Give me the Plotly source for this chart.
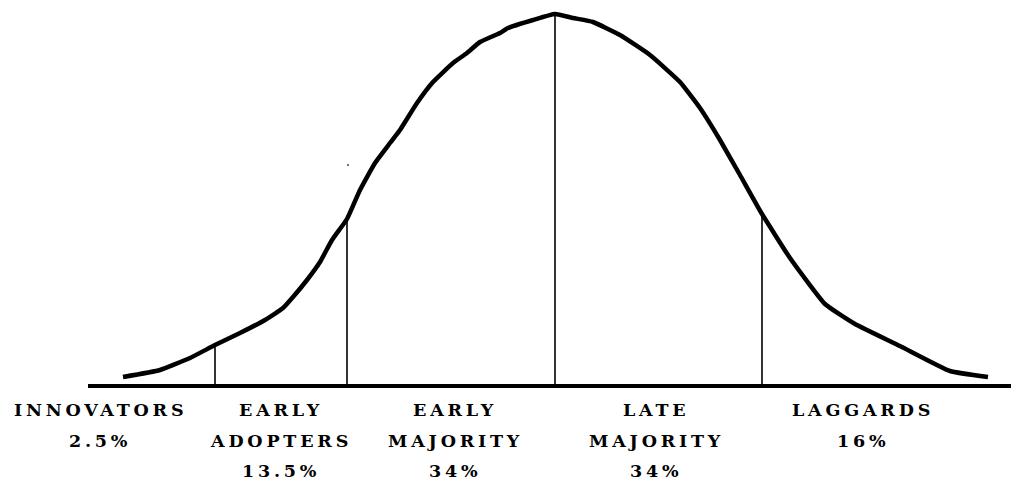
import numpy as np
import plotly.graph_objects as go

# Adoption curve (x position, height above baseline)
curve_x = [123, 160, 190, 215, 240, 265, 283, 293, 307, 320, 332, 347, 360, 375,
           390, 400, 417, 433, 453, 467, 480, 500, 508, 533, 555, 573, 593, 620,
           650, 680, 700, 720, 740, 762, 790, 825, 855, 900, 950, 988]
curve_py = [377, 370, 358, 345, 333, 320, 308, 297, 280, 262, 240, 219, 190, 163,
            143, 130, 103, 82, 63, 53, 42, 33, 28, 20, 14, 18, 22, 35,
            55, 82, 108, 140, 175, 214, 258, 304, 324, 346, 371, 377]
divider_x = [215, 347, 555, 762]

categories = [["INNOVATORS"], ["EARLY", "ADOPTERS"], ["EARLY", "MAJORITY"],
              ["LATE", "MAJORITY"], ["LAGGARDS"]]
shares = ["2.5%", "13.5%", "34%", "34%", "16%"]

# layout helpers
BASE = 386
label_cx = [98, 279, 453, 654, 861]
line_y = [410, 441, 471]

curve_h = [BASE - p for p in curve_py]

fig = go.Figure()
fig.add_trace(go.Scatter(x=curve_x, y=curve_h, mode="lines",
                         line=dict(color="black", width=4.5, shape="spline", smoothing=0.4),
                         hoverinfo="skip"))
fig.add_trace(go.Scatter(x=[88, 1011], y=[0, 0], mode="lines",
                         line=dict(color="black", width=4), hoverinfo="skip"))
for dx in divider_x:
    top = float(np.interp(dx, curve_x, curve_h))
    fig.add_trace(go.Scatter(x=[dx, dx], y=[0, top], mode="lines",
                             line=dict(color="black", width=1.6), hoverinfo="skip"))
# stray dot
fig.add_trace(go.Scatter(x=[348], y=[BASE - 165], mode="markers",
                         marker=dict(color="#444", size=2), hoverinfo="skip"))

def add_text(x, py, txt):
    fig.add_annotation(x=x, y=BASE - py, text=f'<span style="letter-spacing:3.8px">{txt}</span>',
                       showarrow=False, xanchor="center", yanchor="middle",
                       font=dict(family="DejaVu Serif", size=17.5, color="black", weight="bold"))

for cx, lines, share in zip(label_cx, categories, shares):
    allines = lines + [share]
    for i, t in enumerate(allines):
        add_text(cx + 2, line_y[i], t)

fig.update_layout(width=1011, height=481, margin=dict(l=0, r=0, t=0, b=0),
                  paper_bgcolor="white", plot_bgcolor="white", showlegend=False,
                  xaxis=dict(range=[0, 1011], visible=False, fixedrange=True),
                  yaxis=dict(range=[BASE - 481, BASE], visible=False, fixedrange=True))
fig.write_html("out.html", config={"displayModeBar": False},
               post_script="document.body.style.margin='0';document.body.style.overflow='hidden';")
